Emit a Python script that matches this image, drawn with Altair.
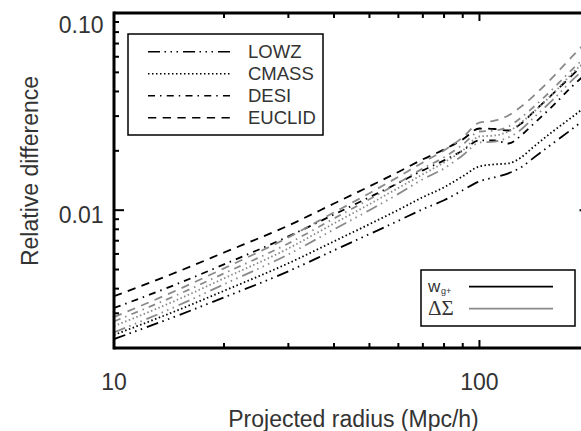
import altair as alt
import pandas as pd

# ---------------- data ----------------
radius = [10, 15, 20, 30, 40, 50, 60, 70, 80, 90, 100, 110, 120, 130, 140, 160, 180, 200]
surveys = ["LOWZ", "CMASS", "DESI", "EUCLID"]
observables = ["wg+", "DeltaSigma"]

wgp_lowz = [0.00222, 0.00293, 0.00361, 0.00490, 0.00626, 0.00756, 0.00884, 0.01012, 0.01123,
            0.01262, 0.01401, 0.01468, 0.01538, 0.01649, 0.01831, 0.02205, 0.02595, 0.03019]
wgp_cmass = [0.00233, 0.00312, 0.00390, 0.00538, 0.00695, 0.00849, 0.01004, 0.01164, 0.01306,
             0.01485, 0.01667, 0.01707, 0.01727, 0.01852, 0.02080, 0.02536, 0.02984, 0.03472]
wgp_desi = [0.00319, 0.00425, 0.00531, 0.00736, 0.00951, 0.01163, 0.01374, 0.01592, 0.01788,
            0.02009, 0.02258, 0.02258, 0.02178, 0.02393, 0.02718, 0.03428, 0.04276, 0.05093]
wgp_euclid = [0.00366, 0.00489, 0.00610, 0.00836, 0.01081, 0.01321, 0.01563, 0.01811, 0.02032,
              0.02286, 0.02595, 0.02580, 0.02535, 0.02748, 0.03126, 0.03945, 0.04864, 0.05858]

ds_lowz = [0.00240, 0.00329, 0.00421, 0.00597, 0.00799, 0.01000, 0.01210, 0.01435, 0.01629,
           0.01897, 0.02203, 0.02229, 0.02338, 0.02564, 0.02917, 0.03679, 0.04591, 0.05458]
ds_cmass = [0.00258, 0.00353, 0.00451, 0.00640, 0.00857, 0.01072, 0.01297, 0.01520, 0.01746,
            0.02009, 0.02364, 0.02393, 0.02506, 0.02780, 0.03126, 0.03945, 0.04977, 0.05929]
ds_desi = [0.00273, 0.00374, 0.00478, 0.00678, 0.00908, 0.01137, 0.01374, 0.01629, 0.01854,
           0.02153, 0.02506, 0.02535, 0.02655, 0.02950, 0.03311, 0.04178, 0.05212, 0.06209]
ds_euclid = [0.00287, 0.00396, 0.00507, 0.00728, 0.00974, 0.01219, 0.01476, 0.01746, 0.02009,
             0.02339, 0.02780, 0.02848, 0.03019, 0.03350, 0.03767, 0.04805, 0.06067, 0.07391]

y_major = [0.01, 0.1]
y_minor = [0.002, 0.003, 0.004, 0.005, 0.006, 0.007, 0.008, 0.009,
           0.02, 0.03, 0.04, 0.05, 0.06, 0.07, 0.08, 0.09]
x_major = [10, 100]
x_minor = [20, 30, 40, 50, 60, 70, 80, 90]
x_labels = ["10", "100"]
y_labels = ["0.01", "0.10"]
x_title = "Projected radius (Mpc/h)"
y_title = "Relative difference"

series = {
    ("wg+", "LOWZ"): wgp_lowz, ("wg+", "CMASS"): wgp_cmass,
    ("wg+", "DESI"): wgp_desi, ("wg+", "EUCLID"): wgp_euclid,
    ("DeltaSigma", "LOWZ"): ds_lowz, ("DeltaSigma", "CMASS"): ds_cmass,
    ("DeltaSigma", "DESI"): ds_desi, ("DeltaSigma", "EUCLID"): ds_euclid,
}
rows = []
for (obs, sv), vals in series.items():
    for r, v in zip(radius, vals):
        rows.append({"r": r, "value": v, "survey": sv, "obs": obs})
df = pd.DataFrame(rows)

# ---------------- style ----------------
W, H = 467, 335
FONT = "Liberation Sans"
TXT = "#333333"
GRAY = "#8a8a8a"
dashes = [[12, 4.5, 1.5, 4.5, 1.5, 4.5, 1.5, 5], [1.5, 2.5], [7, 5, 1.5, 5.25], [8.3, 6.4]]

xscale = alt.Scale(type="log", domain=[10, 189.6], nice=False)
yscale = alt.Scale(type="log", domain=[0.002, 0.1], nice=False)

lines = alt.Chart(df).mark_line(clip=True, strokeWidth=1.8, interpolate="monotone").encode(
    x=alt.X("r:Q", scale=xscale, axis=None),
    y=alt.Y("value:Q", scale=yscale, axis=None),
    color=alt.Color("obs:N", scale=alt.Scale(domain=observables, range=["black", GRAY]), legend=None),
    strokeDash=alt.StrokeDash("survey:N", scale=alt.Scale(domain=surveys, range=dashes), legend=None),
    detail="survey:N",
    order=alt.Order("r:Q"),
)


def xticks(vals, length, top):
    d = pd.DataFrame({"v": vals})
    y0, y1 = (0, length) if top else (H, H - length)
    return alt.Chart(d).mark_rule(color="black", strokeWidth=2).encode(
        x=alt.X("v:Q", scale=xscale, axis=None), y=alt.value(y0), y2=alt.value(y1))


def yticks(vals, x0, x1):
    d = pd.DataFrame({"v": vals})
    return alt.Chart(d).mark_rule(color="black", strokeWidth=2).encode(
        y=alt.Y("v:Q", scale=yscale, axis=None), x=alt.value(x0), x2=alt.value(x1))


one = pd.DataFrame({"a": [0]})
frame = [
    alt.Chart(one).mark_rule(color="black", strokeWidth=3).encode(
        x=alt.value(0), x2=alt.value(W), y=alt.value(0)),
    alt.Chart(one).mark_rule(color="black", strokeWidth=3).encode(
        x=alt.value(0), x2=alt.value(W), y=alt.value(H)),
    alt.Chart(one).mark_rule(color="black", strokeWidth=3).encode(
        x=alt.value(0), y=alt.value(-1.5), y2=alt.value(H + 1.5)),
]

ticks = [
    xticks(x_major, 8, False), xticks(x_minor, 5, False),
    xticks(x_major, 8, True), xticks(x_minor, 5, True),
    yticks(y_major, 0, 10), yticks(y_minor, 0, 5),
    yticks([0.01], W - 1.5, W),
]

# ---------------- tick labels and titles ----------------
xlab = alt.Chart(pd.DataFrame({"v": x_major, "t": x_labels})).mark_text(
    font=FONT, fontSize=23, color=TXT, align="center", baseline="alphabetic").encode(
    x=alt.X("v:Q", scale=xscale, axis=None), y=alt.value(H + 42), text="t:N")

ylab = []
for v, t, dy in zip(y_major, y_labels, [12.5, 20.3]):
    ylab.append(alt.Chart(pd.DataFrame({"v": [v], "t": [t]})).mark_text(
        font=FONT, fontSize=23, color=TXT, align="right", baseline="alphabetic", dy=dy).encode(
        y=alt.Y("v:Q", scale=yscale, axis=None), x=alt.value(-10.5), text="t:N"))

titles = [
    alt.Chart(one).mark_text(text=x_title, font=FONT, fontSize=23, color=TXT,
                             align="center", baseline="alphabetic").encode(
        x=alt.value(239.5), y=alt.value(413.7)),
    alt.Chart(one).mark_text(text=y_title, font=FONT, fontSize=23, color=TXT, angle=270,
                             align="center", baseline="alphabetic").encode(
        x=alt.value(-75.7), y=alt.value(158)),
]

# ---------------- legend 1 (surveys) ----------------
leg1 = [alt.Chart(one).mark_rect(fill=None, stroke="black", strokeWidth=1.5).encode(
    x=alt.value(14), x2=alt.value(209), y=alt.value(21), y2=alt.value(122))]
row_y = [38.7, 60.7, 82.7, 104.7]
for sv, yy in zip(surveys, row_y):
    d = pd.DataFrame({"survey": [sv]})
    leg1.append(alt.Chart(d).mark_rule(color="black", strokeWidth=1.5).encode(
        x=alt.value(34), x2=alt.value(118), y=alt.value(yy),
        strokeDash=alt.StrokeDash("survey:N", scale=alt.Scale(domain=surveys, range=dashes), legend=None)))
    leg1.append(alt.Chart(d).mark_text(align="left", baseline="alphabetic", font=FONT,
                                       fontSize=18.5, color=TXT).encode(
        x=alt.value(134), y=alt.value(yy + 6.6), text="survey:N"))

# ---------------- legend 2 (observables) ----------------
leg2 = [
    alt.Chart(one).mark_rect(fill=None, stroke="black", strokeWidth=1.5).encode(
        x=alt.value(307), x2=alt.value(461), y=alt.value(257), y2=alt.value(313)),
    alt.Chart(one).mark_rule(color="black", strokeWidth=1.8).encode(
        x=alt.value(355), x2=alt.value(439), y=alt.value(273.7)),
    alt.Chart(one).mark_rule(color=GRAY, strokeWidth=1.8).encode(
        x=alt.value(355), x2=alt.value(439), y=alt.value(295.7)),
    alt.Chart(one).mark_text(text="w", align="left", baseline="alphabetic", font=FONT,
                             fontSize=17, color=TXT).encode(x=alt.value(314), y=alt.value(278.7)),
    alt.Chart(one).mark_text(text="g+", align="left", baseline="alphabetic", font=FONT,
                             fontSize=9, color=TXT).encode(x=alt.value(327), y=alt.value(281)),
    alt.Chart(one).mark_text(text="ΔΣ", align="left", baseline="alphabetic", font="Liberation Serif",
                             fontSize=21, color=TXT).encode(x=alt.value(314), y=alt.value(301.5)),
]

chart = alt.layer(lines, *frame, *ticks, xlab, *ylab, *titles, *leg1, *leg2).properties(
    width=W, height=H,
    autosize=alt.AutoSizeParams(type="none"),
    padding={"left": 114, "top": 13, "right": 0, "bottom": 83},
    background="white",
).configure_view(stroke=None)

chart.save("out.html", embed_options={"renderer": "svg", "actions": False})
